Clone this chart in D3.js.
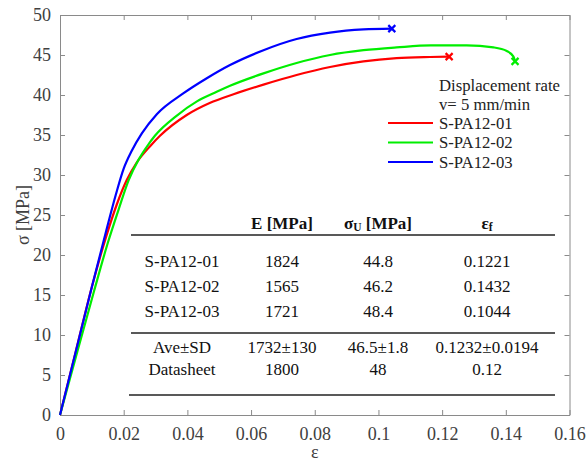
<!DOCTYPE html>
<html>
<head>
<meta charset="utf-8">
<script src="https://cdn.jsdelivr.net/npm/d3@7"></script>
<style>
  body { margin: 0; background: #fff; }
  text { font-family: "Liberation Serif", "Times New Roman", serif; }
</style>
</head>
<body>
<script>
// strain / stress curves
var pa01 = [[0,0],[0.005,8],[0.010,16],[0.0145,22.3],[0.018,26.5],[0.021,29.4],[0.024,31.5],[0.0283,33.6],[0.0314,34.9],
  [0.0398,37.5],[0.0470,39],[0.0545,40.1],[0.0639,41.3],[0.0743,42.5],[0.0848,43.5],[0.0953,44.2],[0.1057,44.6],[0.1162,44.75],[0.1222,44.8]];
var pa02 = [[0,0],[0.0055,8],[0.0107,15.5],[0.0150,21.5],[0.0185,25.8],[0.0215,29.3],[0.0245,31.8],[0.0272,33.5],[0.0298,34.9],
  [0.0366,37.4],[0.0430,39.2],[0.0492,40.4],[0.0534,41.15],[0.0639,42.7],[0.0743,44.0],[0.0848,45.0],[0.0953,45.6],[0.1057,45.95],
  [0.1165,46.2],[0.1277,46.2],[0.1361,45.95],[0.1403,45.5],[0.1424,44.8],[0.1429,44.2]];
var pa03 = [[0,0],[0.005,8],[0.010,16],[0.0145,23],[0.0175,27.5],[0.020,30.8],[0.0225,33],[0.0257,35.2],[0.0304,37.6],
  [0.0387,40.2],[0.0461,42.1],[0.0534,43.75],[0.0639,45.6],[0.0743,47.0],[0.0848,47.8],[0.0953,48.2],[0.1042,48.3]];

var seriesNames = ["S-PA12-01", "S-PA12-02", "S-PA12-03"];
var seriesColors = ["#ff0000", "#00ee00", "#0000ff"];

var xTicks = [0, 0.02, 0.04, 0.06, 0.08, 0.1, 0.12, 0.14, 0.16];
var yTicks = [0, 5, 10, 15, 20, 25, 30, 35, 40, 45, 50];

// table inside the plot
var tableNames = ["S-PA12-01", "S-PA12-02", "S-PA12-03", "Ave\u00b1SD", "Datasheet"];
var tableE = ["1824", "1565", "1721", "1732\u00b1130", "1800"];
var tableSigma = ["44.8", "46.2", "48.4", "46.5\u00b11.8", "48"];
var tableEps = ["0.1221", "0.1432", "0.1044", "0.1232\u00b10.0194", "0.12"];

var W = 587, H = 466;
var plotL = 60, plotR = 569.5, plotT = 15, plotB = 415;

var svg = d3.select("body").append("svg")
    .attr("width", W)
    .attr("height", H);

svg.append("rect").attr("width", W).attr("height", H).attr("fill", "#fff");

var x = d3.scaleLinear().domain([0, 0.16]).range([plotL, plotR]);
var y = d3.scaleLinear().domain([0, 50]).range([plotB, plotT]);

var axisColor = "#8a8a8a", labelColor = "#404040";

function styleAxis(g, hideText) {
  g.select(".domain").attr("stroke", axisColor);
  g.selectAll(".tick line").attr("stroke", axisColor);
  g.selectAll(".tick text").attr("fill", labelColor)
    .attr("font-family", "Liberation Serif").attr("font-size", 18);
  if (hideText) g.selectAll(".tick text").remove();
}

svg.append("g").attr("transform", "translate(0," + plotB + ")")
  .call(d3.axisBottom(x).tickValues(xTicks).tickSize(-5).tickPadding(12).tickSizeOuter(0).tickFormat(d3.format("~g")))
  .call(styleAxis);
svg.append("g").attr("transform", "translate(0," + plotT + ")")
  .call(d3.axisTop(x).tickValues(xTicks).tickSize(-5).tickSizeOuter(0))
  .call(function(g) { styleAxis(g, true); });
svg.append("g").attr("transform", "translate(" + plotL + ",0)")
  .call(d3.axisLeft(y).tickValues(yTicks).tickSize(-5).tickPadding(9).tickSizeOuter(0))
  .call(styleAxis);
svg.append("g").attr("transform", "translate(" + plotR + ",0)")
  .call(d3.axisRight(y).tickValues(yTicks).tickSize(-5).tickSizeOuter(0))
  .call(function(g) { styleAxis(g, true); });

// axis titles
svg.append("text")
  .attr("transform", "translate(23," + ((plotT + plotB) / 2) + ") rotate(-90)")
  .attr("text-anchor", "middle").attr("dominant-baseline", "central")
  .attr("font-size", 18).attr("fill", labelColor)
  .text("\u03c3 [MPa]");
svg.append("text")
  .attr("x", (plotL + plotR) / 2).attr("y", 452)
  .attr("text-anchor", "middle").attr("dominant-baseline", "central")
  .attr("font-size", 18).attr("fill", labelColor)
  .text("\u03b5");

// curves
var line = d3.line().x(function(d) { return x(d[0]); }).y(function(d) { return y(d[1]); })
  .curve(d3.curveMonotoneX);
var allSeries = [pa01, pa02, pa03];

allSeries.forEach(function(s, i) {
  svg.append("path").datum(s)
    .attr("d", line)
    .attr("fill", "none")
    .attr("stroke", seriesColors[i])
    .attr("stroke-width", 2.2);
  var last = s[s.length - 1];
  var mx = x(last[0]), my = y(last[1]), r = 3.5;
  svg.append("path")
    .attr("d", "M" + (mx - r) + "," + (my - r) + "L" + (mx + r) + "," + (my + r) +
               "M" + (mx - r) + "," + (my + r) + "L" + (mx + r) + "," + (my - r))
    .attr("stroke", seriesColors[i]).attr("stroke-width", 2.2);
});

// legend
var legX = 388, legFont = 16.7;
svg.append("text").attr("x", legX + 51).attr("y", 85).attr("dominant-baseline", "central")
  .attr("font-size", legFont).attr("fill", "#222").text("Displacement rate");
svg.append("text").attr("x", legX + 51).attr("y", 104).attr("dominant-baseline", "central")
  .attr("font-size", legFont).attr("fill", "#222").text("v= 5 mm/min");
seriesNames.forEach(function(n, i) {
  var ly = 123 + i * 19.5;
  svg.append("line").attr("x1", legX).attr("x2", legX + 45).attr("y1", ly).attr("y2", ly)
    .attr("stroke", seriesColors[i]).attr("stroke-width", 2.2);
  svg.append("text").attr("x", legX + 51).attr("y", ly).attr("dominant-baseline", "central")
    .attr("font-size", legFont).attr("fill", "#222").text(n);
});

// table
var colX = [182, 282, 378, 487];
var rowY = [261, 286, 311, 347, 369];
var headY = 223;
var tbl = svg.append("g").attr("font-size", 17).attr("fill", "#111").attr("text-anchor", "middle");

tbl.append("text").attr("x", colX[1]).attr("y", headY).attr("dominant-baseline", "central")
  .attr("font-weight", "bold").text("E [MPa]");
var h2 = tbl.append("text").attr("x", colX[2]).attr("y", headY).attr("dominant-baseline", "central")
  .attr("font-weight", "bold");
h2.append("tspan").text("\u03c3");
h2.append("tspan").attr("font-size", 11.5).attr("dy", 4).text("U");
h2.append("tspan").attr("dy", -4).text(" [MPa]");
var h3 = tbl.append("text").attr("x", colX[3]).attr("y", headY).attr("dominant-baseline", "central")
  .attr("font-weight", "bold");
h3.append("tspan").text("\u03b5");
h3.append("tspan").attr("font-size", 11.5).attr("dy", 4).text("f");

var cols = [tableNames, tableE, tableSigma, tableEps];
cols.forEach(function(col, c) {
  tbl.selectAll(null).data(col).enter().append("text")
    .attr("x", colX[c])
    .attr("y", function(d, i) { return rowY[i]; })
    .attr("dominant-baseline", "central")
    .text(function(d) { return d; });
});

var rules = [[131, 555, 235], [131, 555, 333], [129, 555, 395]];
rules.forEach(function(r) {
  svg.append("line").attr("x1", r[0]).attr("x2", r[1]).attr("y1", r[2]).attr("y2", r[2])
    .attr("stroke", "#222").attr("stroke-width", 1.5);
});
</script>
</body>
</html>
